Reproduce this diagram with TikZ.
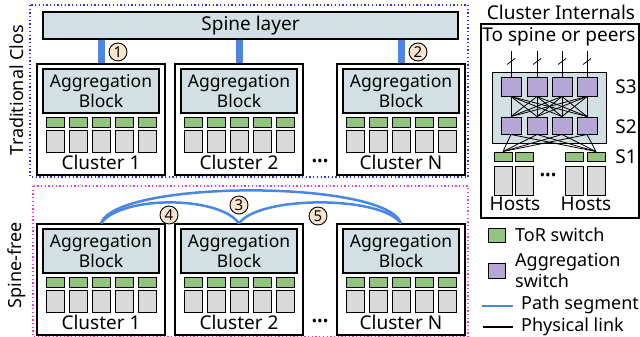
\documentclass[tikz,border=0pt]{standalone}
\usepackage{fontspec}
\setmainfont{Noto Sans}
\usetikzlibrary{positioning}
\definecolor{blockfill}{HTML}{D2E0E3}
\definecolor{torgreen}{HTML}{93C47D}
\definecolor{aggpurple}{HTML}{B4A7D6}
\definecolor{hostgray}{HTML}{D9D9D9}
\definecolor{pathblue}{HTML}{4A86E8}
\definecolor{tagfill}{HTML}{FCE5CD}
\definecolor{closblue}{HTML}{3030F0}
\definecolor{freepink}{HTML}{FF30E0}
\tikzset{
    panel/.style={rectangle, draw=black, line width=1.2pt, fill=white, minimum width=128pt, minimum height=111pt, inner sep=0pt},
    aggblock/.style={rectangle, draw=black, line width=1.2pt, fill=blockfill, minimum width=116pt, minimum height=44pt, inner sep=0pt, align=center, font=\fontsize{17.5}{20}\selectfont},
    tor/.style={rectangle, draw=black, line width=1pt, fill=torgreen, minimum width=18pt, minimum height=10pt, inner sep=0pt},
    host/.style={rectangle, draw=black, line width=1pt, fill=hostgray, minimum width=18pt, minimum height=22pt, inner sep=0pt},
    aggsw/.style={rectangle, draw=black, line width=1pt, fill=aggpurple, minimum width=20pt, minimum height=18pt, inner sep=0pt},
    tag/.style={circle, draw=black, line width=0.9pt, fill=tagfill, minimum size=18pt, inner sep=0pt, font=\fontsize{15}{15}\selectfont},
    uplink/.style={pathblue, line width=7pt},
    segment/.style={pathblue, line width=2.5pt},
    link/.style={black, line width=0.8pt},
    txt/.style={inner sep=0pt, font=\fontsize{19}{21}\selectfont},
    legtxt/.style={inner sep=0pt, align=left, font=\fontsize{18}{21}\selectfont},
    dotsep/.style={inner sep=0pt, font=\fontsize{15}{15}\selectfont},
    region/.style={line width=1.3pt, dash pattern=on 1.3pt off 2.4pt}
}

\begin{document}
\begin{tikzpicture}[x=1pt, y=-1pt]
\useasboundingbox (0,0) rectangle (640,337);

% Regions
\draw [region, closblue] (30,5) rectangle (468,177);
\draw [region, freepink] (33,186) rectangle (468,336.5);
\node [legtxt, rotate=90] (closlabel) at (17,90) {Traditional Clos};
\node [legtxt, rotate=90] (freelabel) at (17,265) {Spine-free};

% Spine
\node [aggblock, minimum width=415pt, minimum height=27pt, font=\fontsize{19}{21}\selectfont] (spine) at (250.5,25.5) {Spine layer};

% Clusters, one row per design
\foreach \rowid/\ypos in {t/64, b/224} {
  \foreach \cid/\xpos in {1/37, 2/175, N/337} {
    \node [panel] (\rowid\cid) at (\xpos+64,\ypos+55.5) {};
    \node [aggblock] (agg\rowid\cid) at (\xpos+64,\ypos+27) {Aggregation\\Block};
    \foreach \k in {0,...,4} {
      \node [tor] (tor\rowid\cid\k) at (\xpos+18+23*\k,\ypos+58) {};
      \node [host] (host\rowid\cid\k) at (\xpos+18+23*\k,\ypos+77) {};
    }
    \node [txt] (name\rowid\cid) at (\xpos+64,\ypos+98) {Cluster \cid};
  }
  \node [dotsep] (dots\rowid) at (320,\ypos+99) {•••};
}

% Spine uplinks
\foreach \cid in {1,2,N}
  \draw [uplink] (spine.south -| t\cid.north) -- (t\cid.north);

% Direct paths between blocks
\draw [segment] (b1.north) .. controls +(15,-44) and +(-15,-44) .. (bN.north);
\draw [segment] (b1.north) .. controls +(20,-28) and +(-20,-28) .. (b2.north);
\draw [segment] (b2.north) .. controls +(20,-28) and +(-20,-28) .. (bN.north);

% Path tags
\node [tag] (tag1) at (118,52) {1};
\node [tag] (tag2) at (418,52) {2};
\node [tag] (tag3) at (239,205) {3};
\node [tag] (tag4) at (169,215) {4};
\node [tag] (tag5) at (318,216) {5};

% Cluster internals
\node [txt] (cintitle) at (561,12) {Cluster Internals};
\node [draw=black, line width=1.2pt, minimum width=158pt, minimum height=194pt, inner sep=0pt] (cin) at (560,121) {};
\node [txt] (tospine) at (559,37) {To spine or peers};
\node [rectangle, draw=black, line width=1pt, fill=blockfill, minimum width=114pt, minimum height=70pt] (fabric) at (549,108) {};

\foreach \k/\xpos in {1/511, 2/537, 3/562, 4/587} {
  \node [aggsw] (sthree\k) at (\xpos,87) {};
  \node [aggsw, minimum height=17pt] (stwo\k) at (\xpos,125.5) {};
}
\foreach \k/\xpos in {1/503, 2/524.5, 3/574, 4/596} {
  \node [tor, minimum height=9pt] (sone\k) at (\xpos,156.5) {};
  \node [host, minimum height=29pt] (hosts\k) at (\xpos,180.5) {};
}

% Links inside the cluster
\foreach \k in {1,...,4} {
  \foreach \m in {1,...,4}
    \draw [link] (sthree\k.south) -- (stwo\m.north);
  \draw [link] (stwo\k.south) -- (sone1.north);
  \draw [link] (stwo\k.south) -- (sone4.north);
  \coordinate (up\k) at ([yshift=26pt]sthree\k.north);
  \draw [link] (sthree\k.north) -- (up\k);
  \draw [link] ([shift={(-4pt,13pt)}]sthree\k.north) -- ([shift={(4pt,19pt)}]sthree\k.north);
}

\node [txt] (lbls3) at (626,87) {S3};
\node [txt] (lbls2) at (626,127) {S2};
\node [txt] (lbls1) at (626,157) {S1};
\node [dotsep] (hostdots) at (548,177) {•••};
\node [txt] (hostsa) at (515,204) {Hosts};
\node [txt] (hostsb) at (586,204) {Hosts};

% Legend
\node [tor, minimum width=17pt, minimum height=14pt] (legtor) at (496.5,235) {};
\node [legtxt, anchor=west] (legtortxt) at (515,235) {ToR switch};
\node [aggsw, minimum width=17pt, minimum height=15pt] (legagg) at (496.5,270.5) {};
\node [legtxt, anchor=west] (legaggtxt) at (515,270) {Aggregation\\switch};
\coordinate (legpa) at (482,306);
\coordinate (legpb) at (513,306);
\draw [segment] (legpa) -- (legpb);
\node [legtxt, anchor=west] (legpathtxt) at (521,305) {Path segment};
\coordinate (legla) at (483,327);
\coordinate (leglb) at (513,327);
\draw [link, line width=1.6pt] (legla) -- (leglb);
\node [legtxt, anchor=west] (leglinktxt) at (521,327) {Physical link};

\end{tikzpicture}
\end{document}
